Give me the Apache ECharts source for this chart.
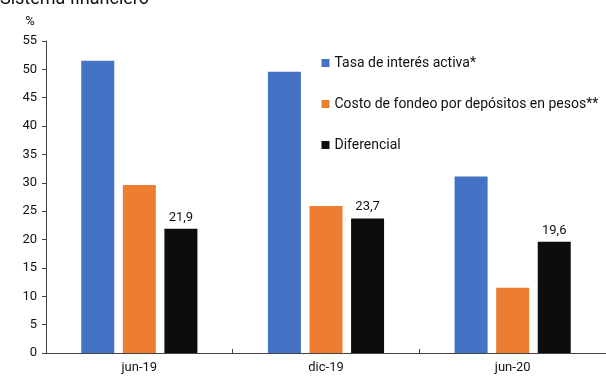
<!DOCTYPE html>
<html>
<head>
<meta charset="utf-8">
<script src="https://cdn.jsdelivr.net/npm/echarts@6/dist/echarts.min.js"></script>
<style>
  html, body { margin: 0; padding: 0; background: #fff; }
  #container { width: 606px; height: 376px; }
</style>
</head>
<body>
<div id="container"></div>
<script>
// datos
var fechas = ['jun-19', 'dic-19', 'jun-20'];
var tasaActiva = [51.5, 49.6, 31.1];
var costoFondeo = [29.6, 25.9, 11.5];
var diferencial = [21.9, 23.7, 19.6];

var chartDom = document.getElementById('container');
var myChart = echarts.init(chartDom);
var option;

const colors = ['#4472C4', '#ED7D31', '#0D0D0D'];
const fuente = 'Roboto';

option = {
    color: colors,
    animation: false,
    textStyle: { fontFamily: fuente },
    title: {
        text: 'Sistema financiero',
        left: -5,
        top: -14.5,
        textStyle: { fontFamily: fuente, fontSize: 18, fontWeight: 'normal', color: '#111' }
    },
    grid: {
        left: 46,
        right: 0,
        top: 41,
        bottom: 23
    },
    legend: {
        orient: 'vertical',
        left: 316.5,
        top: 51,
        itemWidth: 8,
        itemHeight: 8,
        itemGap: 27,
        icon: 'rect',
        textStyle: { fontFamily: fuente, fontSize: 14, color: '#111' },
        data: ['Tasa de interés activa*', 'Costo de fondeo por depósitos en pesos**', 'Diferencial']
    },
    xAxis: [
        {
            type: 'category',
            data: fechas,
            axisLine: { lineStyle: { color: '#444', width: 1 } },
            axisTick: { show: true, length: 4, inside: true, lineStyle: { color: '#444' } },
            axisLabel: { fontFamily: fuente, fontSize: 13, color: '#111', margin: 8 }
        }
    ],
    yAxis: [
        {
            type: 'value',
            name: '%',
            nameLocation: 'end',
            nameGap: 13,
            nameTextStyle: { fontFamily: fuente, fontSize: 13, color: '#111', padding: [0, 32, 0, 0] },
            min: 0,
            max: 55,
            interval: 5,
            splitLine: { show: false },
            axisLine: { show: true, lineStyle: { color: '#444', width: 1 } },
            axisTick: { show: true, length: 4, lineStyle: { color: '#444' } },
            axisLabel: { fontFamily: fuente, fontSize: 13, color: '#111', margin: 9 }
        }
    ],
    series: [
        {
            name: 'Tasa de interés activa*',
            type: 'bar',
            barWidth: 33,
            barGap: '26%',
            data: tasaActiva
        },
        {
            name: 'Costo de fondeo por depósitos en pesos**',
            type: 'bar',
            barWidth: 33,
            barGap: '26%',
            data: costoFondeo
        },
        {
            name: 'Diferencial',
            type: 'bar',
            barWidth: 33,
            barGap: '26%',
            data: diferencial,
            label: {
                show: true,
                position: 'top',
                distance: 5,
                fontFamily: fuente,
                fontSize: 13,
                color: '#111',
                formatter: function (p) { return String(p.value).replace('.', ','); }
            }
        }
    ]
};

option && myChart.setOption(option);
</script>
</body>
</html>
